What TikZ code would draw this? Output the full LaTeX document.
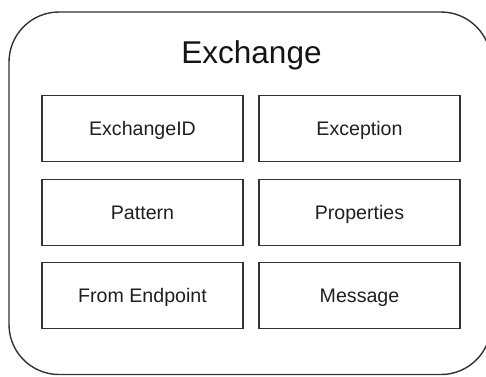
\documentclass[tikz,border=0pt]{standalone}
\usepackage{fontspec}
\setmainfont{Liberation Sans}
\begin{document}
\begin{tikzpicture}[x=1pt,y=-1pt,
  frame/.style={draw=black!80,line width=1.4pt,rounded corners=50pt},
  field/.style={draw=black!80,line width=1.4pt,rectangle,
    minimum width=201pt,minimum height=66pt,inner sep=0pt,
    text height=14pt,text depth=0pt,text=black!88,
    font=\fontsize{19.6pt}{22pt}\selectfont},
  heading/.style={text=black!92,inner sep=0pt,anchor=base,
    font=\fontsize{31.5pt}{36pt}\selectfont}]
  % the page ends inside the container's right side
  \clip (0,0) rectangle (486,376);
  % outer container
  \draw[frame] (9,12) rectangle (491,374.5);
  \node[heading] (title) at (251.5,63.3) {Exchange};
  % fields of the exchange
  \node[field] (id)    at (142.5,128.5) {ExchangeID};
  \node[field] (exc)   at (359.5,128.5) {Exception};
  \node[field] (pat)   at (142.5,212.5) {Pattern};
  \node[field] (prop)  at (359.5,212.5) {Properties};
  \node[field] (from)  at (142.5,295.5) {From Endpoint};
  \node[field] (msg)   at (359.5,295.5) {Message};
\end{tikzpicture}
\end{document}
